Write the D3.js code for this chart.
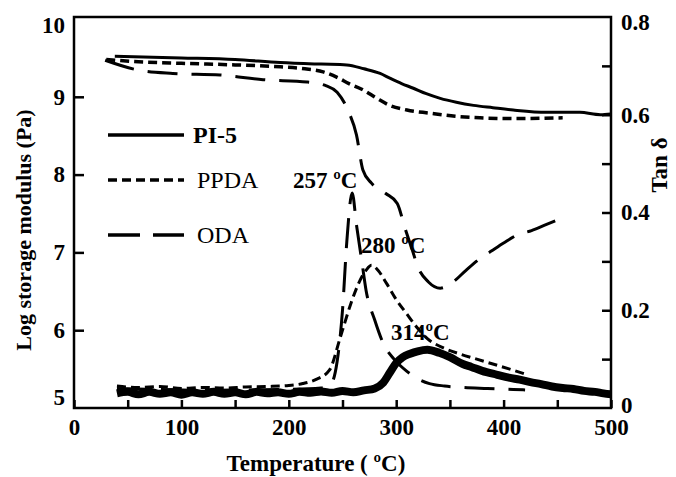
<!DOCTYPE html>
<html>
<head>
<meta charset="utf-8">
<script src="https://cdn.jsdelivr.net/npm/d3@7"></script>
<style>
  body { margin: 0; background: #fff; }
  svg text { font-family: "Liberation Serif", "Times New Roman", serif; fill: #000; }
  .tick line { stroke: #000; stroke-width: 2.5; }
  .tick text { font-size: 23px; font-weight: bold; }
</style>
</head>
<body>
<svg id="chart" width="676" height="477"></svg>
<script>
// storage modulus (left axis, log Pa)
const pi5Storage = [[38,9.52],[100,9.50],[150,9.48],[192,9.44],[230,9.42],[254,9.41],[270,9.36],[285,9.30],[294,9.24],[305,9.17],[316,9.11],[328,9.04],[341,8.98],[356,8.93],[372,8.89],[390,8.86],[409,8.83],[440,8.80],[471,8.80],[490,8.77],[500,8.78]];
const ppdaStorage = [[30,9.48],[60,9.45],[100,9.43],[150,9.41],[186,9.39],[215,9.36],[232,9.32],[245,9.25],[256,9.17],[269,9.09],[282,8.98],[294,8.89],[310,8.83],[331,8.79],[355,8.75],[378,8.73],[410,8.72],[455,8.73]];
const odaStorage = [[29,9.47],[61,9.34],[92,9.30],[136,9.28],[176,9.22],[217,9.19],[235,9.14],[245,9.06],[255,8.83],[263,8.51],[269,8.06],[277,7.89],[290,7.76],[301,7.63],[308,7.32],[315,7.03],[320,6.82],[330,6.62],[341,6.54],[353,6.62],[365,6.77],[376,6.90],[389,7.02],[400,7.12],[412,7.22],[426,7.28],[440,7.36],[451,7.42]];

// tan delta (right axis)
const pi5Tan = [[40,0.030],[50,0.033],[60,0.028],[70,0.033],[80,0.029],[90,0.032],[100,0.027],[110,0.032],[120,0.029],[130,0.033],[140,0.029],[150,0.032],[160,0.028],[170,0.033],[180,0.030],[190,0.032],[200,0.029],[210,0.033],[220,0.031],[230,0.034],[240,0.031],[250,0.035],[260,0.032],[270,0.036],[280,0.040],[288,0.052],[294,0.072],[300,0.092],[306,0.104],[313,0.111],[320,0.116],[329,0.119],[340,0.113],[350,0.104],[362,0.090],[370,0.084],[380,0.076],[394,0.068],[405,0.062],[415,0.058],[425,0.053],[435,0.049],[445,0.044],[455,0.041],[465,0.039],[475,0.035],[485,0.033],[493,0.030],[500,0.028]];
const ppdaTan = [[40,0.045],[60,0.042],[80,0.044],[100,0.040],[120,0.042],[140,0.041],[160,0.043],[180,0.044],[200,0.046],[213,0.050],[225,0.058],[238,0.078],[248,0.145],[258,0.215],[265,0.255],[272,0.282],[277,0.292],[283,0.282],[291,0.255],[300,0.222],[310,0.192],[320,0.163],[329,0.142],[345,0.122],[360,0.110],[375,0.100],[390,0.090],[405,0.080],[422,0.068]];
const odaTan = [[40,0.040],[80,0.038],[120,0.036],[160,0.037],[200,0.038],[230,0.041],[240,0.052],[245,0.095],[250,0.200],[254,0.340],[259,0.440],[263,0.375],[268,0.300],[272,0.240],[280,0.180],[288,0.132],[298,0.100],[310,0.075],[320,0.060],[331,0.050],[345,0.045],[362,0.042],[385,0.040],[409,0.038],[420,0.037]];

const xTicks = [0,50,100,150,200,250,300,350,400,450,500];
const leftTicks = [5,6,7,8,9,10];
const rightTicks = [0,0.1,0.2,0.3,0.4,0.5,0.6,0.7,0.8];

const svg = d3.select("#chart");

const x = d3.scaleLinear().domain([0, 500]).range([74, 611]);
const yL = d3.scaleLinear().domain([5, 10]).range([408, 19]);
const yR = d3.scaleLinear().domain([0, 0.8]).range([408, 17]);

// axes, ticks pointing inward
svg.append("g")
  .attr("transform", "translate(0,408)")
  .call(d3.axisBottom(x).tickValues(xTicks).tickSizeInner(-8).tickSizeOuter(0).tickPadding(11)
    .tickFormat(d => d % 100 === 0 ? d : ""))
  .call(g => g.select(".domain").remove());

svg.append("g")
  .attr("transform", "translate(74,0)")
  .call(d3.axisLeft(yL).tickValues(leftTicks).tickSizeInner(-10).tickSizeOuter(0).tickPadding(9)
    .tickFormat(d3.format("d")))
  .call(g => g.select(".domain").remove())
  .call(g => g.selectAll(".tick").filter(d => d === 10 || d === 5).select("line").remove())
  .call(g => g.selectAll(".tick text").attr("dy", d => d === 10 ? "0.58em" : d === 5 ? "-0.15em" : "0.32em"));

svg.append("g")
  .attr("transform", "translate(611,0)")
  .call(d3.axisRight(yR).tickValues(rightTicks).tickSizeInner(-9).tickSizeOuter(0).tickPadding(10)
    .tickFormat(d => Math.round(d * 10) % 2 === 0 ? String(+d.toFixed(1)) : ""))
  .call(g => g.select(".domain").remove())
  .call(g => g.selectAll(".tick").filter(d => d === 0 || d === 0.8).select("line").remove())
  .call(g => g.selectAll(".tick text").attr("dy", d => d === 0.8 ? "0.55em" : d === 0 ? "0.2em" : "0.32em"));

// frame
svg.append("rect")
  .attr("x", 74).attr("y", 17)
  .attr("width", 611 - 74).attr("height", 408 - 17)
  .attr("fill", "none").attr("stroke", "#000").attr("stroke-width", 2.5);

const lineL = d3.line().x(d => x(d[0])).y(d => yL(d[1])).curve(d3.curveMonotoneX);
const lineR = d3.line().x(d => x(d[0])).y(d => yR(d[1])).curve(d3.curveMonotoneX);

const solid = null, shortDash = "9,5", longDash = "30,14";

function draw(data, gen, dash, width) {
  svg.append("path")
    .datum(data)
    .attr("d", gen)
    .attr("fill", "none")
    .attr("stroke", "#000")
    .attr("stroke-width", width)
    .attr("stroke-linejoin", "round")
    .attr("stroke-dasharray", dash);
}

draw(pi5Tan, lineR, solid, 8);
draw(ppdaTan, lineR, shortDash, 3);
draw(odaTan, lineR, longDash, 3);
draw(pi5Storage, lineL, solid, 3);
draw(ppdaStorage, lineL, shortDash, 3.5);
draw(odaStorage, lineL, longDash, 3);

// legend
const legend = [
  { name: "PI-5", dash: solid, y: 135, bold: true },
  { name: "PPDA", dash: shortDash, y: 180, bold: false },
  { name: "ODA", dash: "32,13", y: 235, bold: false }
];
legend.forEach(l => {
  svg.append("line")
    .attr("x1", 108).attr("x2", 184).attr("y1", l.y).attr("y2", l.y)
    .attr("stroke", "#000").attr("stroke-width", 3.5)
    .attr("stroke-dasharray", l.dash);
  svg.append("text")
    .attr("x", l.bold ? 193 : 197).attr("y", l.y).attr("dy", "0.35em")
    .attr("font-size", 24)
    .attr("font-weight", l.bold ? "bold" : "normal")
    .text(l.name);
});

// peak annotations
const notes = [
  { t: "257 ºC", x: 293, y: 180 },
  { t: "280 ºC", x: 361, y: 245 },
  { t: "314ºC", x: 391, y: 332 }
];
notes.forEach(n => {
  svg.append("text")
    .attr("x", n.x).attr("y", n.y).attr("dy", "0.35em")
    .attr("font-size", 23).attr("font-weight", "bold")
    .text(n.t);
});

// axis titles
svg.append("text")
  .attr("transform", "translate(31,230) rotate(-90)")
  .attr("text-anchor", "middle")
  .attr("font-size", 22).attr("font-weight", "bold")
  .text("Log storage modulus (Pa)");

svg.append("text")
  .attr("transform", "translate(667,165) rotate(-90)")
  .attr("text-anchor", "middle")
  .attr("font-size", 23).attr("font-weight", "bold")
  .text("Tan  δ");

svg.append("text")
  .attr("x", 316).attr("y", 471)
  .attr("text-anchor", "middle")
  .attr("font-size", 23).attr("font-weight", "bold")
  .text("Temperature ( ºC)");
</script>
</body>
</html>
